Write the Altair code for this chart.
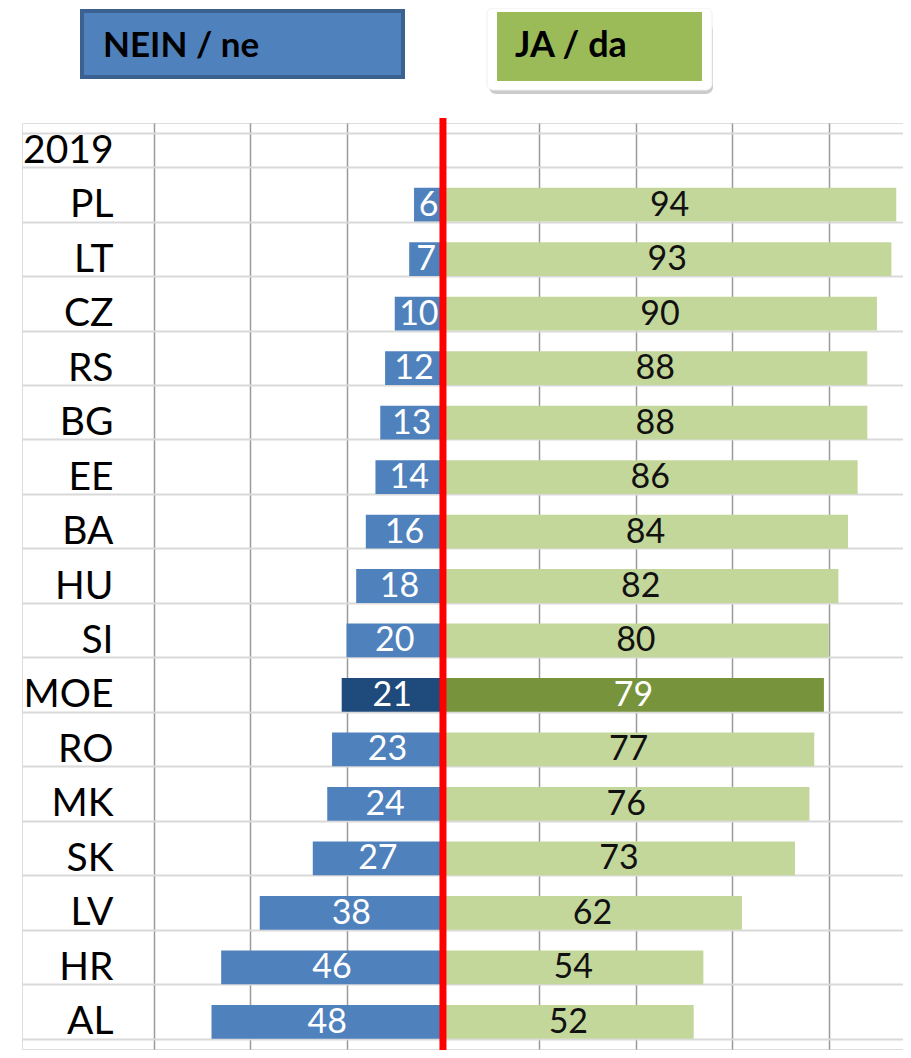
import altair as alt
import pandas as pd

# ---- data ----
rows = ["2019", "PL", "LT", "CZ", "RS", "BG", "EE", "BA", "HU", "SI",
        "MOE", "RO", "MK", "SK", "LV", "HR", "AL"]
countries = rows[1:]
nein = [6, 7, 10, 12, 13, 14, 16, 18, 20, 21, 23, 24, 27, 38, 46, 48]
ja = [94, 93, 90, 88, 88, 86, 84, 82, 80, 79, 77, 76, 73, 62, 54, 52]
highlight = "MOE"
legend_labels = ["NEIN / ne", "JA / da"]
grid_values = [-60, -40, -20, 20, 40, 60, 80]

# ---- styles ----
FONT = "Lato"
BLUE, BLUE_HL = "#4F81BD", "#1F4A7C"
GREEN, GREEN_HL = "#C4D79B", "#77933C"

recs = []
for c, n, j in zip(countries, nein, ja):
    hl = c == highlight
    recs.append(dict(country=c, start=0, end=-n, mid=-n / 2, label=str(n),
                     fill=BLUE_HL if hl else BLUE, tcol="#FFFFFF"))
    recs.append(dict(country=c, start=0, end=j, mid=j / 2, label=str(j),
                     fill=GREEN_HL if hl else GREEN,
                     tcol="#FFFFFF" if hl else "#111111"))
df = pd.DataFrame(recs)

W, H = 881, 926
xscale = alt.Scale(domain=[-87.3, 95.4], nice=False, zero=False)
yscale = alt.Scale(domain=rows, paddingInner=0.38, paddingOuter=0.19)

base = alt.Chart(df)

bars = base.mark_bar().encode(
    x=alt.X("start:Q", scale=xscale,
            axis=alt.Axis(values=grid_values, labels=False, ticks=False,
                          domain=False, grid=True, gridColor="#9A9A9A",
                          gridWidth=1.5, title=None)),
    x2="end:Q",
    y=alt.Y("country:N", scale=yscale, sort=rows,
            axis=alt.Axis(title=None, labelFont=FONT, labelFontSize=39,
                          labelColor="#000000", labelPadding=-91,
                          labelAlign="right", labelBaseline="middle",
                          ticks=False, tickSize=0, domain=False, grid=True,
                          tickBand="extent", gridColor="#D9D9D9",
                          gridWidth=2)),
    color=alt.Color("fill:N", scale=None),
)

labels = base.mark_text(font=FONT, fontSize=34, baseline="middle",
                        align="center", dy=1).encode(
    x=alt.X("mid:Q", scale=xscale),
    y=alt.Y("country:N", scale=yscale, sort=rows),
    text="label:N",
    color=alt.Color("tcol:N", scale=None),
)

zero_line = alt.Chart(pd.DataFrame({"x": [0]})).mark_rule(
    color="#FF0000", strokeWidth=7).encode(
    x=alt.X("x:Q", scale=xscale),
    y=alt.value(-5), y2=alt.value(H + 1),
)

# ---- legend boxes above the plot (decoration) ----
one = pd.DataFrame({"t": [0]})
nein_box = alt.Chart(one).mark_rect(fill=BLUE, stroke="#3A6190",
                                    strokeWidth=4).encode(
    x=alt.value(60), x2=alt.value(381), y=alt.value(-112), y2=alt.value(-46))
shadow = alt.Chart(one).mark_rect(fill="#8C8C8C", opacity=0.45,
                                  cornerRadius=7).encode(
    x=alt.value(467), x2=alt.value(691), y=alt.value(-100), y2=alt.value(-29))
frame = alt.Chart(one).mark_rect(fill="#FFFFFF", cornerRadius=6,
                                 stroke="#EEEEEE", strokeWidth=1).encode(
    x=alt.value(465), x2=alt.value(690), y=alt.value(-115), y2=alt.value(-33))
ja_box = alt.Chart(one).mark_rect(fill="#9BBB59").encode(
    x=alt.value(475), x2=alt.value(680), y=alt.value(-111), y2=alt.value(-42))
nein_txt = alt.Chart(pd.DataFrame({"t": [legend_labels[0]]})).mark_text(
    font=FONT, fontSize=35, fontWeight="bold", align="left",
    baseline="alphabetic", color="#000000").encode(
    text="t:N", x=alt.value(81), y=alt.value(-66))
ja_txt = alt.Chart(pd.DataFrame({"t": [legend_labels[1]]})).mark_text(
    font=FONT, fontSize=36, fontWeight="bold", align="left",
    baseline="alphabetic", color="#000000").encode(
    text="t:N", x=alt.value(493), y=alt.value(-66))

chart = alt.layer(
    bars, labels, zero_line,
    nein_box, shadow, frame, ja_box, nein_txt, ja_txt,
).properties(
    width=W, height=H,
    autosize=alt.AutoSizeParams(type="none"),
    padding={"left": 14, "top": 115, "right": 0, "bottom": 1},
).configure_view(stroke=None).configure(background="#FFFFFF")

chart.save("out.html", embed_options={"renderer": "svg", "actions": False})
